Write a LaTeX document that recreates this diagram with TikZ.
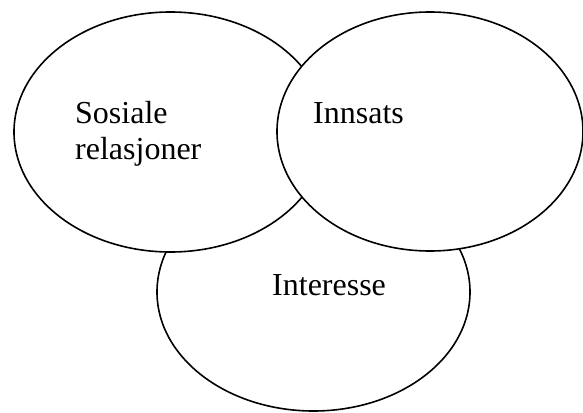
\documentclass[tikz,border=0pt]{standalone}
\usepackage{fontspec}
\setmainfont{Liberation Serif}
\usetikzlibrary{shapes.geometric}
\begin{document}
\begin{tikzpicture}[x=1pt,y=-1pt,
  circle area/.style={ellipse,draw=black,fill=white,line width=1.6pt,inner sep=0pt},
  label text/.style={font=\fontsize{32}{32}\selectfont,inner sep=0pt,anchor=base west}]
\useasboundingbox (0,0) rectangle (583,412);
% bottom ellipse first, so the two upper ones cover its top
\node[circle area,minimum width=313pt,minimum height=238pt] (interesse) at (313.5,292) {};
\node[circle area,minimum width=313pt,minimum height=240pt] (sosiale) at (170.5,132) {};
\node[circle area,minimum width=306pt,minimum height=239pt] (innsats) at (430,131.5) {};
% labels
\node[label text] (t1) at (75,123) {Sosiale};
\node[label text] (t2) at (75,159) {relasjoner};
\node[label text] (t3) at (313,123) {Innsats};
\node[label text] (t4) at (272,295) {Interesse};
\end{tikzpicture}
\end{document}
